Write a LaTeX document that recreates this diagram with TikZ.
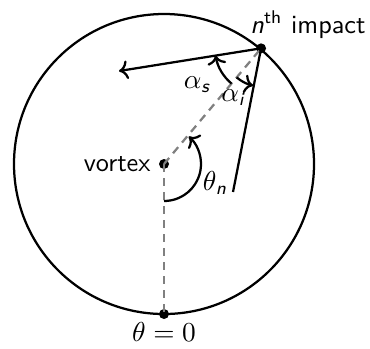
\documentclass[tikz,border=0pt]{standalone}
\usepackage{amsmath}
\usetikzlibrary{arrows.meta,calc,positioning}

\begin{document}
\begin{tikzpicture}[
    x=0.4pt, y=0.4pt,
    font=\sffamily\fontsize{10.5}{13}\selectfont,
    dot/.style={circle, fill=black, inner sep=0pt, minimum size=4pt},
    ray/.style={line width=0.9pt},
    guide/.style={gray, line width=0.9pt, dash pattern=on 3.2pt off 2.4pt},
    ang/.style={->, line width=0.9pt},
    lbl/.style={inner sep=1pt}
]
\useasboundingbox (-164,-184) rectangle (206,164);

\node[dot] (vortex) at (0,0) {};
\node[dot] (impact) at (50:151) {};
\node[dot] (zero) at (0,-150) {};
\coordinate (inc) at (69,-28);
\coordinate (out) at (-45,93);

\draw[ray] (0,0) circle[radius=150];
\draw[guide] (vortex.center) -- (zero.center);
\draw[guide] (vortex.center) -- (impact.center);
\draw[ray] (inc) -- (impact.center);
\draw[ray,->] (impact.center) -- (out);

\draw[ang] ($(impact.center)+(230:46)$) arc[start angle=230, end angle=189, radius=46];
\draw[ang] ($(impact.center)+(230:38)$) arc[start angle=230, end angle=258, radius=38];
\draw[ang] (0,-37) arc[start angle=-90, end angle=48, radius=37];

\node[lbl, left=2pt of vortex] (vlabel) {vortex};
\node[lbl] (nth) at (144,139) {\textit{n}\textsuperscript{th} impact};
\node[lbl, below=0pt of zero] (zlabel) {$\theta=0$};
\node[lbl] (as) at (33,79) {$\alpha_{\text{\itshape s}}$};
\node[lbl] (ai) at (69,66) {$\alpha_{\text{\itshape i}}$};
\node[lbl] (tn) at (51,-19) {$\theta_{\text{\itshape n}}$};
\end{tikzpicture}
\end{document}
